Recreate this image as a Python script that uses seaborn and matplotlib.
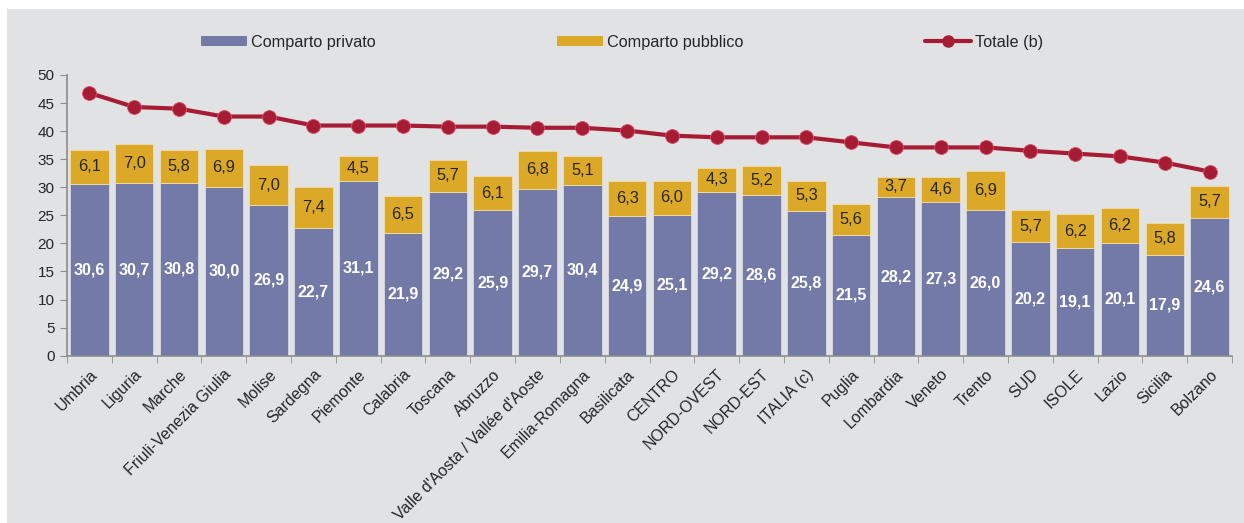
import numpy as np
import matplotlib
matplotlib.use("Agg")
import matplotlib.pyplot as plt
import seaborn as sns
from matplotlib.patches import Patch, Rectangle
from matplotlib.lines import Line2D

regioni = ["Umbria", "Liguria", "Marche", "Friuli-Venezia Giulia", "Molise", "Sardegna",
           "Piemonte", "Calabria", "Toscana", "Abruzzo", "Valle d'Aosta / Vallée d'Aoste",
           "Emilia-Romagna", "Basilicata", "CENTRO", "NORD-OVEST", "NORD-EST", "ITALIA (c)",
           "Puglia", "Lombardia", "Veneto", "Trento", "SUD", "ISOLE", "Lazio", "Sicilia", "Bolzano"]
privato = [30.6, 30.7, 30.8, 30.0, 26.9, 22.7, 31.1, 21.9, 29.2, 25.9, 29.7, 30.4, 24.9,
           25.1, 29.2, 28.6, 25.8, 21.5, 28.2, 27.3, 26.0, 20.2, 19.1, 20.1, 17.9, 24.6]
pubblico = [6.1, 7.0, 5.8, 6.9, 7.0, 7.4, 4.5, 6.5, 5.7, 6.1, 6.8, 5.1, 6.3,
            6.0, 4.3, 5.2, 5.3, 5.6, 3.7, 4.6, 6.9, 5.7, 6.2, 6.2, 5.8, 5.7]
totale = [46.8, 44.3, 44.0, 42.6, 42.6, 41.0, 41.0, 41.0, 40.8, 40.8, 40.6, 40.6, 40.1,
          39.2, 38.9, 38.9, 38.9, 38.0, 37.1, 37.1, 37.1, 36.5, 36.0, 35.5, 34.4, 32.8]

BG = "#e1e2e4"
C_PRIV = "#737aa7"
C_PUBB = "#dba827"
C_TOT = "#a71c35"
TXT = "#262626"

sns.set_style("white")
plt.rcParams['font.family'] = ['Liberation Sans', 'DejaVu Sans']

fig = plt.figure(figsize=(12.44, 5.23), dpi=100, facecolor="white")
fig.patches.append(Rectangle((7 / 1244, 0), 1, 1 - 9 / 523, transform=fig.transFigure,
                             facecolor=BG, edgecolor="none", zorder=-10))
ax = fig.add_axes([67 / 1244, 1 - 355.7 / 523, (1232 - 67) / 1244, (355.7 - 75) / 523])
ax.set_facecolor("none")

n = len(regioni)
x = np.arange(n)
sns.barplot(x=regioni, y=privato, color=C_PRIV, width=0.86, ax=ax,
            edgecolor="#d8d9e6", linewidth=0.6, saturation=1)
sns.barplot(x=regioni, y=pubblico, bottom=privato, color=C_PUBB, width=0.86, ax=ax,
            edgecolor="#f0dfa8", linewidth=0.6, saturation=1)
sns.pointplot(x=regioni, y=totale, color=C_TOT, markers="o", linewidth=3,
              markersize=10, markeredgecolor="#d9506a", markeredgewidth=0.6, ax=ax)

# etichette dei valori
for i in range(n):
    ax.text(i, privato[i] / 2, f"{privato[i]:.1f}".replace(".", ","), ha="center",
            va="center", color="white", fontsize=11.5, fontweight="bold")
    ax.text(i, privato[i] + pubblico[i] / 2, f"{pubblico[i]:.1f}".replace(".", ","),
            ha="center", va="center", color=TXT, fontsize=11.8)

ax.set_xlim(-0.5, n - 0.5)
ax.set_ylim(0, 50)
ax.set_yticks(range(0, 51, 5))
ax.tick_params(axis="y", direction="out", length=5, color="#8c8c8c", labelsize=11,
               labelcolor=TXT, left=True, pad=4)
ax.set_xticks(x)
ax.set_xticklabels(regioni, rotation=45, ha="right", rotation_mode="anchor",
                   fontsize=11.5, color=TXT)
ax.tick_params(axis="x", which="major", length=0, pad=8)
ax.set_xticks(np.arange(n + 1) - 0.5, minor=True)
ax.tick_params(axis="x", which="minor", direction="out", length=5, color="#8c8c8c",
               bottom=True)
for s in ["top", "right"]:
    ax.spines[s].set_visible(False)
for s in ["left", "bottom"]:
    ax.spines[s].set_color("#8c8c8c")
    ax.spines[s].set_linewidth(1.2)

handles = [Patch(facecolor=C_PRIV, edgecolor="none"),
           Patch(facecolor=C_PUBB, edgecolor="none"),
           Line2D([0], [0], color=C_TOT, lw=3, marker="o", markersize=8)]
fig.legend(handles, ["Comparto privato", "Comparto pubblico", "Totale (b)"],
           loc="center", bbox_to_anchor=(0.5, 1 - 42 / 523), ncol=3, frameon=False,
           fontsize=11.7, handlelength=2.8, handleheight=0.55, handletextpad=0.25,
           columnspacing=11.2, labelcolor=TXT)

fig.savefig("out.png", dpi=100, facecolor="white")
